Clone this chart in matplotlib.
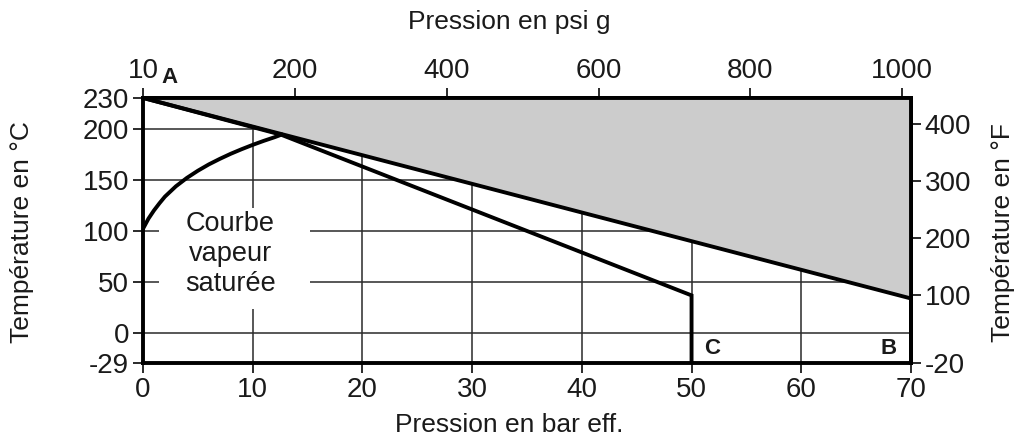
import matplotlib
matplotlib.use("Agg")
import matplotlib.pyplot as plt
from matplotlib.patches import Polygon, Rectangle

plt.rcParams['font.family'] = ['Liberation Sans', 'DejaVu Sans']

# ---- data ----
# saturated steam curve (bar g, °C)
sat_p = [0, 0.5, 1, 1.5, 2, 3, 4, 5, 6, 7, 8, 9, 10, 11, 12, 12.6]
sat_t = [102, 112, 120, 127, 133.5, 143.6, 151.8, 158.8, 165, 170.4, 175.4, 179.9, 184.1, 188, 191.6, 194]
# line A-B (upper limit)
ab_p = [0, 70]
ab_t = [230, 34]
# line A-C
ac_p = [0, 12.6, 50, 50]
ac_t = [230, 194, 37, -29]
# grey region
grey_p = [0, 70, 70]
grey_t = [230, 230, 34]
# axis ticks
x_ticks = [0, 10, 20, 30, 40, 50, 60, 70]
y_ticks = [-29, 0, 50, 100, 150, 200, 230]
psi_ticks = [0, 200, 400, 600, 800, 1000]
psi_labels = ['10', '200', '400', '600', '800', '1000']
f_ticks = [-20, 100, 200, 300, 400]
grid_x = [10, 20, 30, 40, 50, 60]
grid_y = [0, 50, 100, 150, 200]
PSI_PER_BAR = 14.45

TXT = '#1a1a1a'
fig = plt.figure(figsize=(10.19, 4.41), dpi=100)
ax = fig.add_axes([0.1403, 0.177, 0.894 - 0.1403, 0.778 - 0.177])
ax.set_xlim(0, 70)
ax.set_ylim(-29, 230)

for gx in grid_x:
    ax.axvline(gx, color='#2a2a2a', lw=1.1, zorder=1)
for gy in grid_y:
    ax.axhline(gy, color='#2a2a2a', lw=1.1, zorder=1)

# white box behind text
ax.add_patch(Rectangle((1.5, 24), 13.7, 98, facecolor='white', edgecolor='none', zorder=2))
ax.text(7.96, 77, 'Courbe\nvapeur\nsaturée', ha='center', va='center', fontsize=19.5,
        color=TXT, linespacing=1.2, zorder=3)

ax.add_patch(Polygon(list(zip(grey_p, grey_t)), closed=True, facecolor='#cccccc',
                     edgecolor='none', zorder=2))

ax.plot(ab_p, ab_t, color='black', lw=2.8, zorder=4, solid_capstyle='butt')
ax.plot(ac_p, ac_t, color='black', lw=2.8, zorder=4, solid_joinstyle='miter')
ax.plot(sat_p, sat_t, color='black', lw=2.8, zorder=4)

ax.text(2.4, 249.7, 'A', fontsize=16, fontweight='bold', ha='center', va='center',
        color=TXT, clip_on=False)
ax.text(51.9, -14.7, 'C', fontsize=16, fontweight='bold', ha='center', va='center', color=TXT)
ax.text(68.0, -14.7, 'B', fontsize=16, fontweight='bold', ha='center', va='center', color=TXT)

ax.set_xticks(x_ticks)
ax.set_yticks(y_ticks)
ax.set_yticklabels([str(v) for v in y_ticks])
tp = dict(direction='out', length=7, width=1.3, labelsize=20, pad=3, colors=TXT)
ax.tick_params(**tp)
for s in ax.spines.values():
    s.set_linewidth(2.8)
    s.set_zorder(5)

top = ax.secondary_xaxis('top', functions=(lambda b: b * PSI_PER_BAR, lambda p: p / PSI_PER_BAR))
top.set_xticks(psi_ticks)
top.set_xticklabels(psi_labels)
top.tick_params(**tp)
right = ax.secondary_yaxis('right', functions=(lambda c: c * 9 / 5 + 32, lambda f: (f - 32) * 5 / 9))
right.set_yticks(f_ticks)
right.set_yticklabels([str(v) for v in f_ticks])
right.tick_params(**tp)
for sa in (top, right):
    for s in sa.spines.values():
        s.set_linewidth(2.8)

fig.text(0.5, 0.950, 'Pression en psi g', ha='center', va='center', fontsize=19, color=TXT)
fig.text(0.5, 0.036, 'Pression en bar eff.', ha='center', va='center', fontsize=19, color=TXT)
fig.text(0.0216, 0.474, 'Température en °C', ha='center', va='center', rotation=90,
         fontsize=19, color=TXT)
fig.text(0.984, 0.472, 'Température en °F', ha='center', va='center', rotation=90,
         fontsize=19, color=TXT)

fig.savefig('out.png', dpi=100)
